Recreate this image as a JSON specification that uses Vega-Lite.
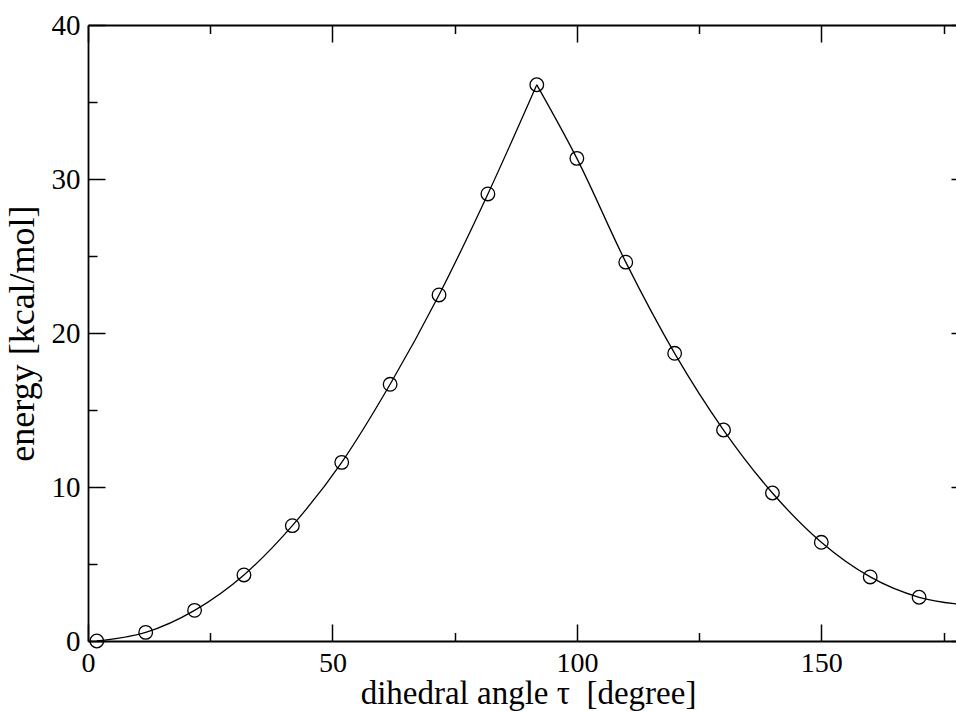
{
  "$schema": "https://vega.github.io/schema/vega-lite/v6.json",
  "autosize": {"type": "none"},
  "padding": {"left": 88, "top": 25, "right": 0, "bottom": 70},
  "width": 868,
  "height": 616,
  "background": "white",
  "config": {"view": {"stroke": null}},
  "datasets": {
    "points": [
      {"angle": 1.8, "energy": 0.0},
      {"angle": 11.8, "energy": 0.56},
      {"angle": 21.8, "energy": 1.99},
      {"angle": 31.9, "energy": 4.29},
      {"angle": 41.8, "energy": 7.49},
      {"angle": 51.9, "energy": 11.6},
      {"angle": 61.8, "energy": 16.67},
      {"angle": 71.8, "energy": 22.47},
      {"angle": 81.8, "energy": 29.03},
      {"angle": 91.8, "energy": 36.12},
      {"angle": 100, "energy": 31.34},
      {"angle": 110, "energy": 24.6},
      {"angle": 120, "energy": 18.68},
      {"angle": 130, "energy": 13.7},
      {"angle": 140, "energy": 9.61},
      {"angle": 150, "energy": 6.41},
      {"angle": 160, "energy": 4.16},
      {"angle": 170, "energy": 2.84}
    ],
    "curve": [
      {"angle": 1.8, "energy": 0.0, "branch": "rise"},
      {"angle": 11.8, "energy": 0.56, "branch": "rise"},
      {"angle": 21.8, "energy": 1.99, "branch": "rise"},
      {"angle": 31.9, "energy": 4.29, "branch": "rise"},
      {"angle": 41.8, "energy": 7.49, "branch": "rise"},
      {"angle": 51.9, "energy": 11.6, "branch": "rise"},
      {"angle": 61.8, "energy": 16.67, "branch": "rise"},
      {"angle": 71.8, "energy": 22.47, "branch": "rise"},
      {"angle": 81.8, "energy": 29.03, "branch": "rise"},
      {"angle": 91.8, "energy": 36.12, "branch": "rise"},
      {"angle": 91.8, "energy": 36.12, "branch": "fall"},
      {"angle": 100, "energy": 31.34, "branch": "fall"},
      {"angle": 110, "energy": 24.6, "branch": "fall"},
      {"angle": 120, "energy": 18.68, "branch": "fall"},
      {"angle": 130, "energy": 13.7, "branch": "fall"},
      {"angle": 140, "energy": 9.61, "branch": "fall"},
      {"angle": 150, "energy": 6.41, "branch": "fall"},
      {"angle": 160, "energy": 4.16, "branch": "fall"},
      {"angle": 170, "energy": 2.84, "branch": "fall"},
      {"angle": 180, "energy": 2.33, "branch": "fall"}
    ]
  },
  "layer": [
    {
      "data": {"name": "curve"},
      "mark": {"type": "line", "interpolate": "monotone", "color": "black", "strokeWidth": 1.3, "clip": true},
      "encoding": {
        "x": {
          "field": "angle", "type": "quantitative",
          "scale": {"domain": [0, 177.55], "nice": false, "zero": false},
          "axis": {
            "orient": "bottom",
            "values": [0, 25, 50, 75, 100, 125, 150, 175],
            "labelExpr": "datum.value % 50 === 0 ? datum.label : ''",
            "labelFlush": false,
            "labelOverlap": false,
            "grid": false,
            "tickSize": {"condition": {"test": "datum.value % 50 === 0", "value": -17}, "value": -8.5},
            "tickWidth": 1.5, "tickColor": "black",
            "domainWidth": 1.8, "domainColor": "black",
            "labelFont": "Liberation Serif", "labelFontSize": 28, "labelColor": "black",
            "labelPadding": 25,
            "title": "dihedral angle τ\u00a0 [degree]",
            "titleFont": "Liberation Serif", "titleFontSize": 33, "titleFontWeight": "normal", "titleColor": "black",
            "titleX": 440, "titlePadding": -8
          }
        },
        "y": {
          "field": "energy", "type": "quantitative",
          "scale": {"domain": [0, 40], "nice": false},
          "axis": {
            "orient": "left",
            "values": [0, 5, 10, 15, 20, 25, 30, 35, 40],
            "labelExpr": "datum.value % 10 === 0 ? datum.label : ''",
            "labelFlush": false,
            "labelOverlap": false,
            "grid": false,
            "tickSize": {"condition": {"test": "datum.value % 10 === 0", "value": -17}, "value": -9},
            "tickWidth": 1.5, "tickColor": "black",
            "domainWidth": 1.8, "domainColor": "black",
            "labelFont": "Liberation Serif", "labelFontSize": 29, "labelColor": "black",
            "labelPadding": 25,
            "title": "energy [kcal/mol]",
            "titleFont": "Liberation Serif", "titleFontSize": 36, "titleFontWeight": "normal", "titleColor": "black",
            "titlePadding": 10
          }
        },
        "detail": {"field": "branch", "type": "nominal"}
      }
    },
    {
      "data": {"name": "points"},
      "mark": {"type": "point", "shape": "circle", "filled": false, "color": "black", "strokeWidth": 1.3, "size": 185, "opacity": 1},
      "encoding": {
        "x": {
          "field": "angle", "type": "quantitative",
          "axis": {
            "orient": "top",
            "values": [0, 25, 50, 75, 100, 125, 150, 175],
            "labels": false,
            "grid": false,
            "tickSize": {"condition": {"test": "datum.value % 50 === 0", "value": -17}, "value": -8.5},
            "tickWidth": 1.5, "tickColor": "black",
            "domainWidth": 1.8, "domainColor": "black",
            "title": null
          }
        },
        "y": {
          "field": "energy", "type": "quantitative",
          "axis": {
            "orient": "right",
            "offset": 12,
            "values": [0, 5, 10, 15, 20, 25, 30, 35, 40],
            "labels": false,
            "grid": false,
            "tickSize": {"condition": {"test": "datum.value % 10 === 0", "value": -17}, "value": -9},
            "tickWidth": 1.5, "tickColor": "black",
            "domainWidth": 1.8, "domainColor": "black",
            "title": null
          }
        }
      }
    }
  ],
  "resolve": {"axis": {"x": "independent", "y": "independent"}}
}
